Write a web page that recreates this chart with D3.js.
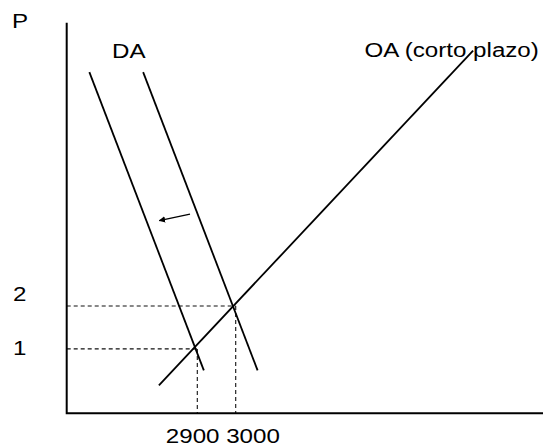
<!DOCTYPE html>
<html lang="es">
<head>
<meta charset="utf-8">
<title>DA / OA</title>
<script src="https://d3js.org/d3.v7.min.js"></script>
<style>
  body { margin: 0; background: #fff; }
  text { font-family: "Liberation Sans", Arial, sans-serif; font-size: 21px; fill: #000; }
</style>
</head>
<body>
<script>
// data (quantity q, price p)
var daInicial = [{q: 2759, p: 7.45}, {q: 3057, p: 0.5}];
var daFinal = [{q: 2619, p: 7.45}, {q: 2917, p: 0.5}];
var oaCorto = [{q: 2800, p: 0.15}, {q: 3618, p: 7.95}];
var flecha = [{q: 2881, p: 4.14}, {q: 2801, p: 3.99}];
var equilibrios = [{q: 2900, p: 1}, {q: 3000, p: 2}];
var qTicks = [2900, 3000];
var pTicks = [1, 2];

var w = 543, h = 447;
var svg = d3.select("body").append("svg")
    .attr("width", w)
    .attr("height", h);

var x = d3.scaleLinear().domain([2560, 3800]).range([66.7, 543]);
var y = d3.scaleLinear().domain([-0.5, 8.6]).range([413.3, 22.7]);

var sx = 1.15; // original text is a bit wide

svg.append("defs").append("marker")
    .attr("id", "head")
    .attr("viewBox", "0 0 10 10")
    .attr("refX", 9).attr("refY", 5)
    .attr("markerWidth", 5).attr("markerHeight", 5)
    .attr("orient", "auto")
    .append("path")
    .attr("d", "M0,0 L10,5 L0,10 z")
    .attr("fill", "#000");

// dashed guides
var dash = svg.append("g")
    .attr("stroke", "#111")
    .attr("stroke-width", 1.1)
    .attr("stroke-dasharray", "4,3");
dash.selectAll("line.h")
    .data(equilibrios)
    .enter().append("line")
    .attr("x1", x.range()[0])
    .attr("x2", function (d) { return x(d.q); })
    .attr("y1", function (d) { return y(d.p); })
    .attr("y2", function (d) { return y(d.p); });
dash.selectAll("line.v")
    .data(equilibrios)
    .enter().append("line")
    .attr("x1", function (d) { return x(d.q); })
    .attr("x2", function (d) { return x(d.q); })
    .attr("y1", function (d) { return y(d.p); })
    .attr("y2", y.range()[0]);

// curves
var line = d3.line()
    .x(function (d) { return x(d.q); })
    .y(function (d) { return y(d.p); });

svg.selectAll("path.curve")
    .data([daInicial, daFinal, oaCorto])
    .enter().append("path")
    .attr("class", "curve")
    .attr("d", line)
    .attr("fill", "none")
    .attr("stroke", "#000")
    .attr("stroke-width", 1.8);

svg.append("path")
    .attr("d", line(flecha))
    .attr("fill", "none")
    .attr("stroke", "#000")
    .attr("stroke-width", 1.3)
    .attr("marker-end", "url(#head)");

// axes
svg.append("path")
    .attr("d", "M" + x.range()[0] + "," + y.range()[1] +
        "V" + y.range()[0] + "H" + x.range()[1])
    .attr("fill", "none")
    .attr("stroke", "#000")
    .attr("stroke-width", 2);

function label(str, px, py, anchor) {
    svg.append("text")
        .attr("transform", "translate(" + px + "," + py + ") scale(" + sx + ",1)")
        .attr("text-anchor", anchor || "start")
        .text(str);
}

label("P", 12, 28.3);
label("DA", 112, 57.7);
label("OA (corto plazo)", 364.5, 56.7);

// price labels
var pNudge = [6, -5.3];
pTicks.forEach(function (v, i) {
    label(v, 26.5, y(v) + pNudge[i], "end");
});

// quantity labels, written as one string in the original
label(qTicks.join(" "), x(qTicks[0]) - 31.5, 443.3);
</script>
</body>
</html>
